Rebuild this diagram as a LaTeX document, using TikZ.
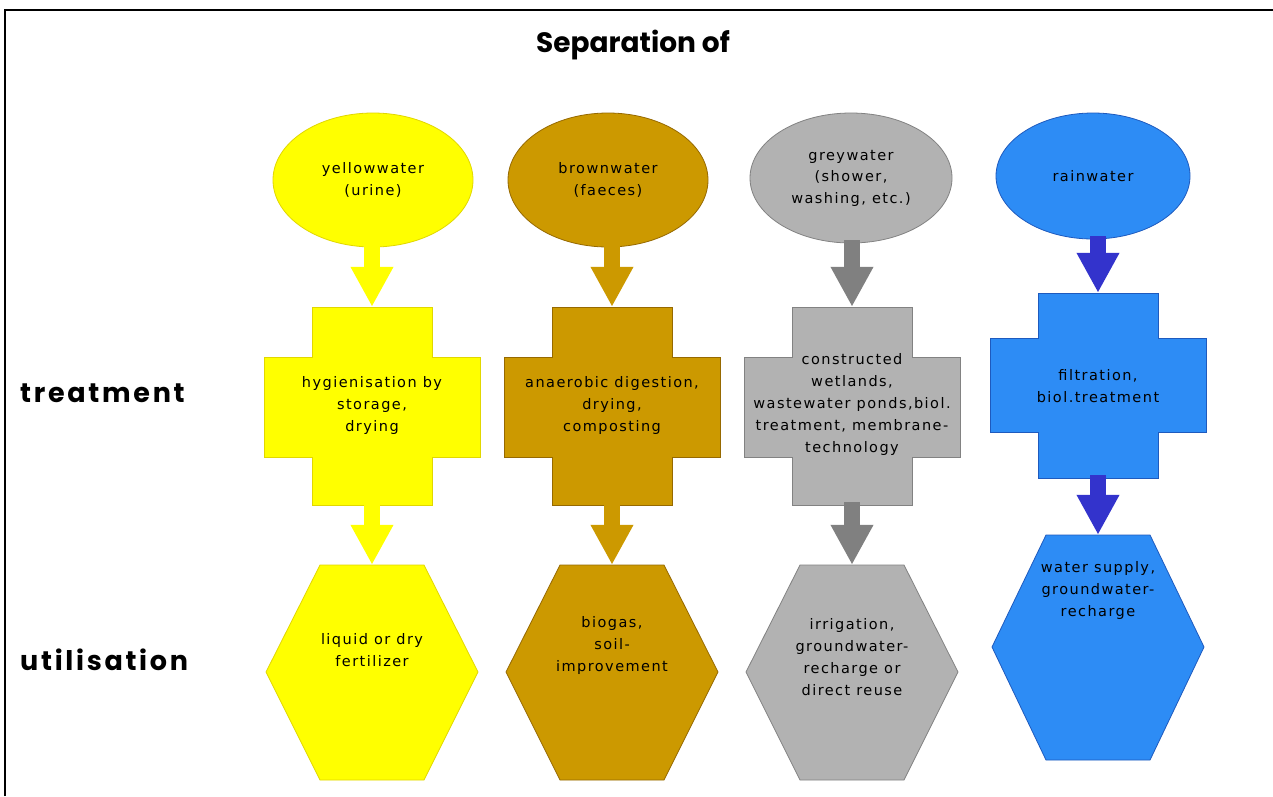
\documentclass[tikz,border=0pt]{standalone}
\usepackage{fontspec}
\setmainfont{DejaVu Sans}
\newfontfamily\boxfont{DejaVu Sans}[LetterSpace=10]
\newfontfamily\labfont{Poppins}[LetterSpace=10]
\newfontfamily\titfont{Poppins}
\usetikzlibrary{shapes.geometric,arrows.meta}
\definecolor{yelF}{RGB}{255,255,0}
\definecolor{yelD}{RGB}{225,215,0}
\definecolor{brnF}{RGB}{204,153,0}
\definecolor{brnD}{RGB}{150,105,0}
\definecolor{gryF}{RGB}{178,178,178}
\definecolor{gryD}{RGB}{130,130,130}
\definecolor{bluF}{RGB}{45,140,245}
\definecolor{bluD}{RGB}{30,90,190}
\definecolor{gryA}{RGB}{128,128,128}
\definecolor{bluA}{RGB}{51,51,204}
\tikzset{
  src/.style={ellipse, inner sep=0pt, align=center, font=\boxfont\fontsize{14.5}{21.5}\selectfont, line width=0.8pt},
  txt/.style={inner sep=0pt, align=center, font=\boxfont\fontsize{14.5}{22}\selectfont},
  anchorbox/.style={rectangle, inner sep=0pt, draw=none},
  flow/.style={line width=16pt, -{Triangle[width=40pt,length=40pt]}, shorten <=-3pt},
  shp/.style={line width=0.8pt},
  lab/.style={inner sep=0pt, font=\labfont\bfseries\fontsize{27}{30}\selectfont},
  tit/.style={inner sep=0pt, font=\titfont\bfseries\fontsize{28}{30}\selectfont},
}
\newcommand\crossat[6]{% cx, ntop, wtop, wbot, nbot, colours
  \filldraw[shp,#6] (#1-60,#2) -- (#1+60,#2) -- (#1+60,#3) -- (#1+108,#3) -- (#1+108,#4) -- (#1+60,#4) -- (#1+60,#5) -- (#1-60,#5) -- (#1-60,#4) -- (#1-108,#4) -- (#1-108,#3) -- (#1-60,#3) -- cycle;}
\newcommand\hexat[5]{% cx, top, mid, bottom, colours
  \filldraw[shp,#5] (#1-52,#2) -- (#1+52,#2) -- (#1+106,#3) -- (#1+52,#4) -- (#1-52,#4) -- (#1-106,#3) -- cycle;}
\begin{document}
\begin{tikzpicture}[x=1pt,y=-1pt]
\useasboundingbox (0,0) rectangle (1273,796);
\fill[white] (0,0) rectangle (1273,796);
\draw[line width=2.5pt] (5,796) -- (5,10) -- (1273,10);

\node[tit] (title) at (633,45) {Separation of};
\node[lab, anchor=west] (ltreat) at (20,393) {treatment};
\node[lab, anchor=west] (lutil) at (20,660) {utilisation};

% sources
\node[src, fill=yelF, draw=yelD, minimum width=200pt, minimum height=134pt] (e1) at (373,180) {yellowwater\\(urine)};
\node[src, fill=brnF, draw=brnD, minimum width=200pt, minimum height=134pt] (e2) at (608,180) {brownwater\\(faeces)};
\node[src, fill=gryF, draw=gryD, minimum width=202pt, minimum height=130pt] (e3) at (851,178) {greywater\\(shower,\\washing, etc.)};
\node[src, fill=bluF, draw=bluD, minimum width=194pt, minimum height=126pt] (e4) at (1093,176) {rainwater};

% treatment crosses
\crossat{372}{307}{357}{457}{505}{fill=yelF,draw=yelD}
\crossat{612}{307}{357}{457}{505}{fill=brnF,draw=brnD}
\crossat{852}{307}{357}{457}{505}{fill=gryF,draw=gryD}
\crossat{1098}{293}{338}{432}{478}{fill=bluF,draw=bluD}
\node[anchorbox, minimum width=120pt, minimum height=198pt] (c1) at (372,406) {};
\node[anchorbox, minimum width=120pt, minimum height=198pt] (c2) at (612,406) {};
\node[anchorbox, minimum width=120pt, minimum height=198pt] (c3) at (852,406) {};
\node[anchorbox, minimum width=120pt, minimum height=185pt] (c4) at (1098,385.5) {};
\node[txt] (t1) at (372,405) {hygienisation by\\storage,\\drying};
\node[txt] (t2) at (612,405) {anaerobic digestion,\\drying,\\composting};
\node[txt] (t3) at (852,404) {constructed\\wetlands,\\wastewater ponds,biol.\\treatment, membrane-\\technology};
\node[txt] (t4) at (1098,386) {filtration,\\biol.treatment};

% utilisation hexagons
\hexat{372}{565}{672}{780}{fill=yelF,draw=yelD}
\hexat{612}{565}{672}{780}{fill=brnF,draw=brnD}
\hexat{852}{565}{672}{780}{fill=gryF,draw=gryD}
\hexat{1098}{535}{647}{760}{fill=bluF,draw=bluD}
\node[anchorbox, minimum width=104pt, minimum height=215pt] (h1) at (372,672.5) {};
\node[anchorbox, minimum width=104pt, minimum height=215pt] (h2) at (612,672.5) {};
\node[anchorbox, minimum width=104pt, minimum height=215pt] (h3) at (852,672.5) {};
\node[anchorbox, minimum width=104pt, minimum height=225pt] (h4) at (1098,647.5) {};
\node[txt] (u1) at (372,650) {liquid or dry\\fertilizer};
\node[txt] (u2) at (612,645) {biogas,\\soil-\\improvement};
\node[txt] (u3) at (852,657) {irrigation,\\groundwater-\\recharge or\\direct reuse};
\node[txt] (u4) at (1098,590) {water supply,\\groundwater-\\recharge};

% arrows
\draw[flow, yelF] (c1.north |- e1.south) -- (c1.north);
\draw[flow, brnF] (c2.north |- e2.south) -- (c2.north);
\draw[flow, gryA] (c3.north |- e3.south) -- (c3.north);
\draw[flow, bluA] (c4.north |- e4.south) -- (c4.north);
\draw[flow, yelF] (c1.south) -- (h1.north);
\draw[flow, brnF] (c2.south) -- (h2.north);
\draw[flow, gryA] (c3.south) -- (h3.north);
\draw[flow, bluA] (c4.south) -- (h4.north);
\end{tikzpicture}
\end{document}
